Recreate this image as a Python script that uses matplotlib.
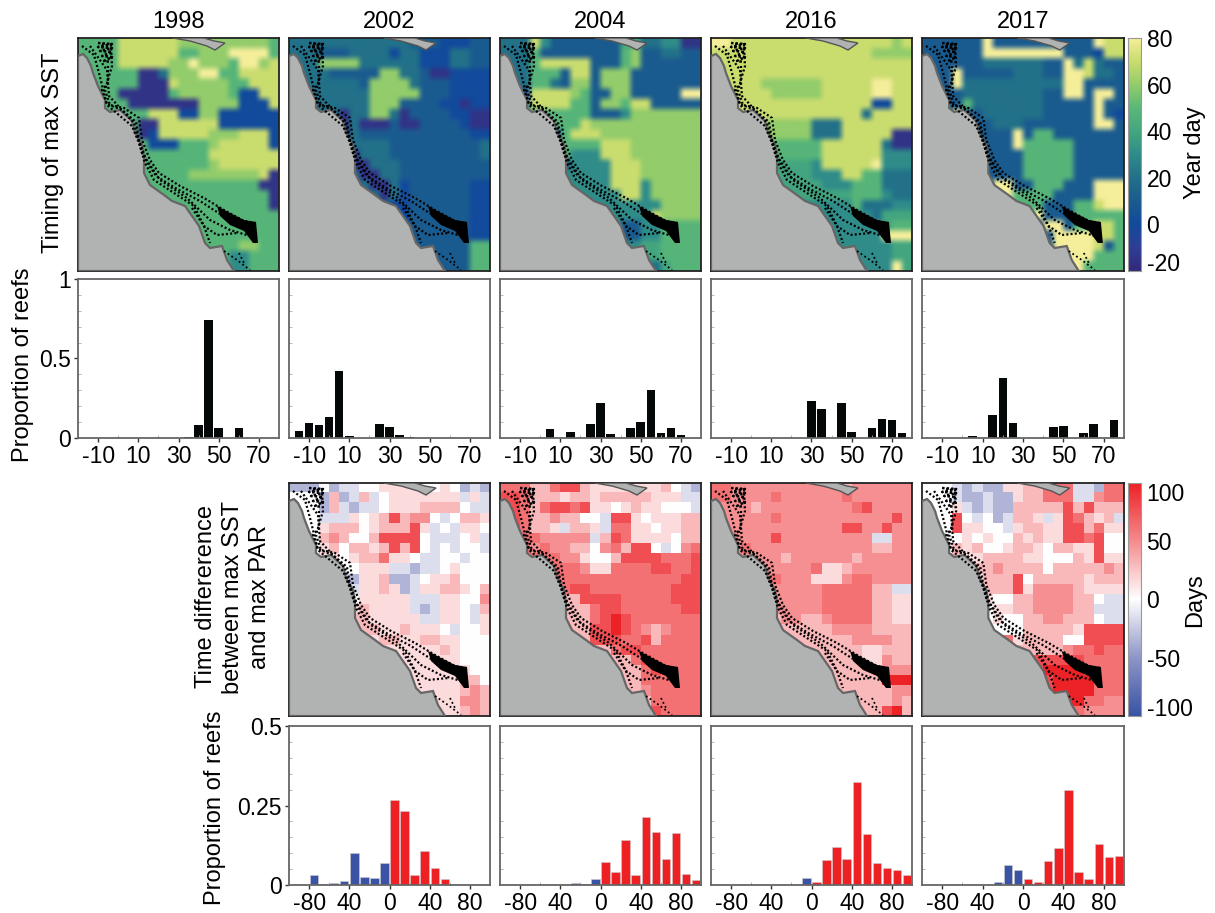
import numpy as np
import matplotlib
matplotlib.use('Agg')
import matplotlib.pyplot as plt
from matplotlib.colors import LinearSegmentedColormap

plt.rcParams['font.family'] = ['Liberation Sans', 'DejaVu Sans']
plt.rcParams['axes.unicode_minus'] = False

W, H = 1215, 913

# top row histograms, timing of max SST (bin centre, proportion of reefs)
years = ['1998', '2002', '2004', '2016', '2017']
sst_bins = {
    '1998': [-10, 25, 35, 40, 45, 50, 55, 60],
    '2002': [-15, -10, -5, 0, 5, 10, 25, 30, 35, 40],
    '2004': [5, 15, 25, 30, 35, 45, 50, 55, 60, 65, 70],
    '2016': [30, 35, 45, 50, 60, 65, 70, 75],
    '2017': [5, 15, 20, 25, 45, 50, 60, 65, 75],
}
sst_prop = {
    '1998': [.003, .002, .005, .08, .74, .065, .003, .065],
    '2002': [.045, .095, .08, .13, .42, .012, .09, .07, .02, .005],
    '2004': [.055, .037, .09, .218, .023, .065, .102, .305, .03, .06, .022],
    '2016': [.232, .185, .22, .04, .063, .122, .115, .03],
    '2017': [.01, .147, .378, .093, .068, .074, .03, .088, .115],
}

# time difference histograms
diff_bins = [-95, -85, -75, -65, -55, -45, -35, -25, -15, -5, 5, 15, 25, 35, 45, 55, 65, 75, 85, 95]
diff_prop = {
    '2002': [0, 0, .033, .004, .007, .014, .10, .025, .023, .07, .267, .232, .03, .108, .055, .018, .004, 0, 0, 0],
    '2004': [0, 0, 0, 0, 0, 0, 0, .006, .002, .02, .072, .04, .14, .03, .213, .168, .083, .163, .035, .017],
    '2016': [0, 0, 0, 0, 0, 0, 0, 0, 0, .023, .011, .078, .121, .081, .325, .161, .068, .053, .047, .031],
    '2017': [0, 0, 0, 0, 0, 0, 0, .008, .062, .047, .02, .01, .076, .115, .30, .041, .018, .13, .088, .09],
}

# map cells read by eye, one digit per cell, digit is an index into the levels
sst_levels = [-15, 0, 10, 20, 30, 40, 48, 60, 70, 80]
diff_levels = [-60, -35, -15, 0, 15, 30, 48, 62, 78, 98]

sst_maps = {}
sst_maps['1998'] = """66668888887777777776
66668888886677799996
66668888877977769978
66666600377799668888
66666600087777766888
66660000067777761188
66666000000077771118
66666668881177111111
66666600888888111111
66666601888887778881
66666661116667888881
66666666666668888888
66666666666667888888
66666666666777777780
66666666666666666600
66666666666666666660
66666666666666666660
66666666666666666666
66666666666666666666
66666666666666666666
66666666666666667766
66666666666666644666
66666666666666644666"""
sst_maps['2002'] = """33333333333322211122
33322233331331113322
33377773333331113322
33332222277332001111
33333332777732221111
33333333777772221111
33333333777222211011
33333033773022221100
33333030002002222100
33333032222222222211
33333033332222222223
33333003332222222223
33333300333222222222
33333330033222222222
33333333003122222211
33333333303122222211
33333333331122222211
22222222221122222211
22222222222222222211
22222222222222222211
22222222222222222266
22222222222222222266
22222222222222222266"""
sst_maps['2004'] = """33384222222255334400
33362222222267223322
33368888822267222222
33366628827772222222
33366327727772222222
33188887622772222299
33388886627768822222
66666666622247777777
66666666877777777777
66666168887777777777
66666166668887777777
66666664448887777777
66666624444888777777
44444444444888777777
44444444444888477777
44444444444488477777
44444444444444447777
44444444444444487777
44444444444422446666
44444444444422446666
44444444444444556666
44444444444444556666
44444444444444335666"""
sst_maps['2016'] = """99888888888888888878
88888888888888887777
88888888888888888888
88888888888888888888
88888777777888889988
88888877777888889988
88888888888888881188
88888888888888838888
77777777773338888888
77777777773338888800
66666666666888888300
66666666666888888444
55555555554888889444
55555555554448866333
55555555555444666333
55555555555555666433
44444444444444633344
44444444444444443555
44444444444444444566
44444444444444444999
44444444444444444455
44444444444444444455
44444444444444444495"""
sst_maps['2017'] = """22222292222222222988
22222299999999222188
22222233333322938322
22292222233322998332
22293333333333992222
22223333333322992992
22226333333322222922
22292233333322222921
22222223332222222992
22222222292662222222
22222222296666622222
22222222226666622222
22222222226666622222
22222222226666622222
22222229922666222999
22222229966662222999
22222222666622266899
22222222666922266666
22222222222299266886
22222222222229999886
22222222222229999826
22222222222222999666
22222222222222996666"""

diff_maps = {}
diff_maps['2002'] = """11131223344443343121
33315125234444444242
33315212234445555322
33322243458566323554
33345553455584232443
33356533588883222342
33345355458583232332
33344345574432233233
33333334442212234333
33333214451123445333
33333324454124455435
33333334444422244336
33333345444421244325
33333355444442244324
33333335544544432334
34444444455445544333
44444444444444454333
44444444444444444333
44444444444444444433
44444444444444444553
44444444444444444565
44444444444444444665
44444444444444444565"""
diff_maps['2004'] = """77755788544444445321
88755545545555544422
88757887844345443332
88755655332884344455
88755425542774434455
77776666625874444355
77767665536758832367
77777766433588887778
77777777644777788778
77777777777777777788
77777778877777777888
77777755888877777888
77777755578877777788
77777755578987777777
55555555588987656777
55555555588877857777
55555555555788777777
55555555555557877777
55555555555555787777
55555555555555777777
55555555555555677777
55555555555555577777
55555555555555587777"""
diff_maps['2016'] = """77666666666665666666
77666676666667666666
66665666666666786666
66666676666666666686
66666666666668866866
66666686666666662266
66676666666666665566
66666665666666566666
66666666667445666666
66666676664446776666
66666666666777775522
66666666666777775544
55566666666777775544
55555556655677775544
55555555555566665555
55555555555555666655
55555555555555544555
55555555555555544655
55555555555555555666
55555555555555555999
55555555555555555566
55555555555555555565
55555555555555555895"""
diff_maps['2017'] = """33321211445577722177
33321121145577722677
33342121155555858555
33383231255424875452
33384433245544885744
33334343354544887833
33354533455435544833
33854455554433354844
33334556555535555565
33333455583555554555
33333455584666654444
33333343355666655322
33333334455666655222
33333334335566555322
44444443335555548888
88888887745555338888
88888888855555677877
88888888888888887777
88888888888899997777
88888888888889999777
88888888888889999777
88888888888888997766
88888888888888976666"""

# coastline and reef traces in map pixels, origin top left of a panel
coast_x = [0, 5, 9, 13, 15, 20, 27, 27, 32, 42, 54, 57, 64, 66, 66, 72, 86, 94, 107, 114, 121, 127, 132, 144, 149, 156, 0]
coast_y = [18, 16, 20, 28, 35, 48, 62, 70, 74, 72, 83, 95, 107, 120, 135, 147, 157, 163, 168, 178, 188, 205, 210, 208, 222, 233, 233]
png_x = [95, 112, 129, 137, 147, 136, 126]
png_y = [0, 3, 8, 12, 5, 3, 0]
reef_outer_x = [24, 33, 34, 27, 32, 46, 61, 64, 72, 81, 102, 126, 146, 166, 177]
reef_outer_y = [6, 7, 28, 52, 67, 70, 80, 102, 122, 135, 148, 160, 172, 183, 185]
reef_outer2_x = [30, 30, 24, 29, 44, 58, 61, 69, 78, 99, 122, 142]
reef_outer2_y = [28, 45, 52, 66, 72, 84, 102, 124, 138, 151, 163, 176]
reef_mid_x = [12, 29, 31, 56, 64, 82, 109, 132, 152, 172]
reef_mid_y = [8, 32, 58, 85, 115, 142, 160, 182, 192, 198]
reef_in_x = [4, 16, 21, 26, 29, 54, 61, 67, 76, 96, 116, 126, 132]
reef_in_y = [8, 17, 35, 55, 67, 88, 105, 125, 142, 155, 168, 188, 205]
reef_wedge_x = [139, 152, 166, 178, 180, 175, 166, 152, 142]
reef_wedge_y = [168, 175, 182, 184, 205, 205, 193, 187, 178]
reef_block_x = [20, 34, 20, 34, 22, 34, 24, 34, 26, 33]
reef_block_y = [5, 6, 9, 10, 13, 14, 18, 19, 23, 24]
reef_south_x = [146, 159, 172]
reef_south_y = [213, 222, 232]
reef_south2_x = [161, 166]
reef_south2_y = [215, 225]
reef_south3_x = [114, 126, 139, 159]
reef_south3_y = [170, 188, 197, 195]

sst_cmap = LinearSegmentedColormap.from_list('sst', [
    '#33297a', '#2f3f96', '#124a9c', '#1b5c8f', '#227189', '#2f8c8a',
    '#44a67f', '#5ab878', '#93cc6b', '#c9dc6e', '#f5ee9a'])
diff_cmap = LinearSegmentedColormap.from_list('diff', [
    '#3953a4', '#8f96c8', '#ffffff', '#f68b8d', '#ed1f24'])


def add_ax(left, top, right, bottom):
    return fig.add_axes([left / W, 1 - bottom / H, (right - left) / W, (bottom - top) / H])


def draw_map(ax, rows, levels, cmap, vmin, vmax, interp):
    grid = np.array([[levels[int(c)] for c in r] for r in rows.split('\n')])
    ax.imshow(grid, cmap=cmap, vmin=vmin, vmax=vmax, extent=[0, 201, 233, 0],
              aspect='auto', interpolation=interp, interpolation_stage='rgba')
    ax.fill(coast_x, coast_y, color='#b1b2b2', ec='#666666', lw=1.6, zorder=3)
    ax.fill(png_x, png_y, color='#b1b2b2', ec='#555555', lw=1.0, zorder=3)
    strands = [(reef_outer_x, reef_outer_y), (reef_outer2_x, reef_outer2_y),
               (reef_mid_x, reef_mid_y), (reef_in_x, reef_in_y), (reef_south3_x, reef_south3_y)]
    for xs, ys in strands:
        ax.plot(xs, ys, color='black', lw=1.6, ls=(0, (0.9, 1.0)), zorder=4)
    ax.plot(reef_block_x, reef_block_y, color='black', lw=1.8, ls=(0, (1, 0.8)), zorder=4)
    ax.fill(reef_wedge_x, reef_wedge_y, color='black', lw=0, zorder=4)
    for xs, ys in [(reef_south_x, reef_south_y), (reef_south2_x, reef_south2_y)]:
        ax.plot(xs, ys, color='black', lw=1.3, ls=(0, (1, 1.5)), zorder=4)
    ax.set_xlim(0, 201)
    ax.set_ylim(233, 0)
    ax.set_xticks([])
    ax.set_yticks([])
    for s in ax.spines.values():
        s.set_color('#222222')
        s.set_linewidth(1.3)


def style_hist(ax):
    for s in ax.spines.values():
        s.set_color('#666666')
        s.set_linewidth(1.3)
    ax.tick_params(axis='both', which='major', length=3, width=1, color='#333333', labelsize=16.5, pad=2)
    ax.tick_params(axis='both', which='minor', length=2, width=0.6, color='#aaaaaa', direction='in')


fig = plt.figure(figsize=(W / 100, H / 100), dpi=100)

col_left = [78, 289, 500, 711, 922]
col_right = [279, 490, 701, 912, 1124]

for i, yr in enumerate(years):
    ax = add_ax(col_left[i], 38, col_right[i], 271)
    draw_map(ax, sst_maps[yr], sst_levels, sst_cmap, -20, 80, 'hanning')
    ax.set_title(yr, fontsize=17, pad=7)

    ax = add_ax(col_left[i], 279, col_right[i], 438)
    ax.bar(sst_bins[yr], sst_prop[yr], width=4.2, color='#050808')
    ax.set_xlim(-20, 80)
    ax.set_ylim(0, 1)
    ax.set_xticks([-10, 10, 30, 50, 70])
    ax.set_yticks([0, 0.5, 1])
    ax.set_yticks(np.arange(0.1, 1, 0.1), minor=True)
    ax.set_xticks([0, 20, 40, 60], minor=True)
    style_hist(ax)
    if i == 0:
        ax.set_yticklabels(['0', '0.5', '1'])
    else:
        ax.tick_params(axis='y', which='major', length=0, labelleft=False)

for i, yr in enumerate(years[1:]):
    c = i + 1
    ax = add_ax(col_left[c], 483, col_right[c], 716)
    draw_map(ax, diff_maps[yr], diff_levels, diff_cmap, -100, 100, 'nearest')

    ax = add_ax(col_left[c], 726, col_right[c], 885)
    colors = ['#3a53a4' if b < 0 else '#ed2024' for b in diff_bins]
    ax.bar(diff_bins, diff_prop[yr], width=8.4, color=colors, edgecolor='#cccccc', linewidth=0.4)
    ax.set_xlim(-100, 100)
    ax.set_ylim(0, 0.5)
    ax.set_xticks([-80, -40, 0, 40, 80])
    ax.set_xticklabels(['-80', '40', '0', '40', '80'])
    ax.set_yticks([0, 0.25, 0.5])
    ax.set_yticks(np.arange(0.05, 0.5, 0.05), minor=True)
    ax.set_xticks([-60, -20, 20, 60], minor=True)
    style_hist(ax)
    if i == 0:
        ax.set_yticklabels(['0', '0.25', '0.5'])
    else:
        ax.tick_params(axis='y', which='major', length=0, labelleft=False)

# colour bars
cax = add_ax(1128, 38, 1141, 271)
cax.imshow(np.linspace(80, -20, 256)[:, None], cmap=sst_cmap, vmin=-20, vmax=80,
           extent=[0, 1, -20, 80], aspect='auto')
cax.set_xticks([])
cax.yaxis.tick_right()
cax.set_yticks([-20, 0, 20, 40, 60, 80])
cax.set_yticklabels(['-20', '0', '20', '40', '60', '80'])
cax.tick_params(axis='y', length=0, labelsize=16.5, pad=4)
cax.get_yticklabels()[0].set_va('baseline')
for s in cax.spines.values():
    s.set_color('#999999')

cax = add_ax(1128, 483, 1141, 716)
cax.imshow(np.linspace(100, -100, 256)[:, None], cmap=diff_cmap, vmin=-100, vmax=100,
           extent=[0, 1, -100, 100], aspect='auto')
cax.set_xticks([])
cax.yaxis.tick_right()
cax.set_yticks([-100, -50, 0, 50, 100])
cax.set_yticklabels(['-100', '-50', '0', '50', '100'])
cax.tick_params(axis='y', length=0, labelsize=16.5, pad=4)
cax.get_yticklabels()[0].set_va('baseline')
cax.get_yticklabels()[-1].set_va('top')
for s in cax.spines.values():
    s.set_color('#999999')

# row and colour bar labels
fig.text(53 / W, 1 - 153 / H, 'Timing of max SST', rotation=90, fontsize=17, ha='center', va='center')
fig.text(23 / W, 1 - 365 / H, 'Proportion of reefs', rotation=90, fontsize=17, ha='center', va='center')
fig.text(233 / W, 1 - 597 / H, 'Time differerence\nbetween max SST\nand max PAR', rotation=90,
         fontsize=17, ha='center', va='center', linespacing=1.3)
fig.text(215 / W, 1 - 808 / H, 'Proportion of reefs', rotation=90, fontsize=17, ha='center', va='center')
fig.text(1195 / W, 1 - 153 / H, 'Year day', rotation=90, fontsize=17, ha='center', va='center')
fig.text(1195 / W, 1 - 600 / H, 'Days', rotation=90, fontsize=17, ha='center', va='center')

fig.savefig('out.png', dpi=100)
